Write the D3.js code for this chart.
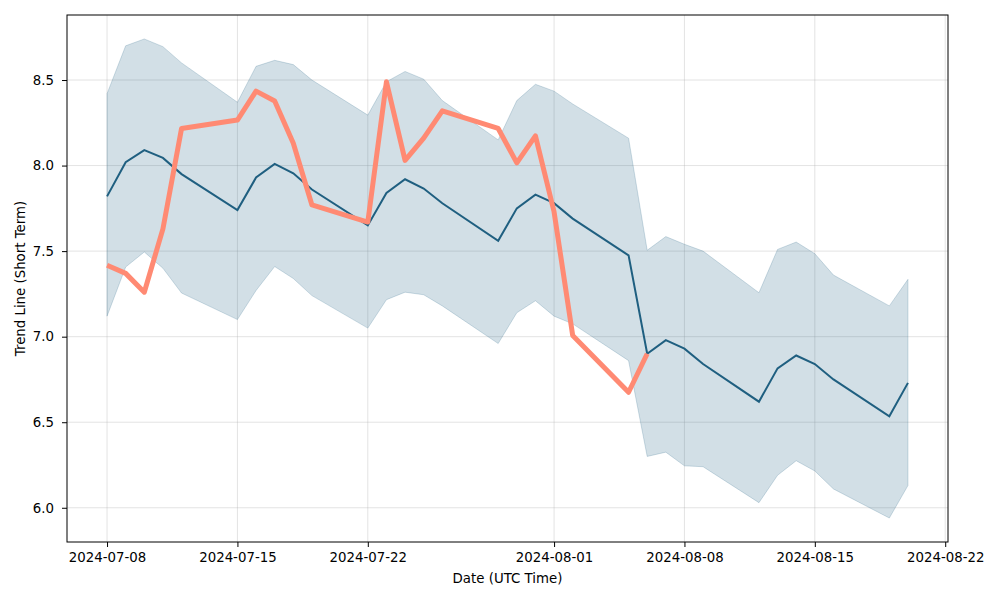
<!DOCTYPE html>
<html>
<head>
<meta charset="utf-8">
<script src="https://cdn.jsdelivr.net/npm/d3@7"></script>
<style>
  html, body { margin: 0; padding: 0; background: #fff; }
  svg { display: block; font-family: "DejaVu Sans", sans-serif; }
</style>
</head>
<body>
<svg id="chart" width="1000" height="600"></svg>
<script>
const dates = ["2024-07-08","2024-07-09","2024-07-10","2024-07-11","2024-07-12",
  "2024-07-15","2024-07-16","2024-07-17","2024-07-18","2024-07-19",
  "2024-07-22","2024-07-23","2024-07-24","2024-07-25","2024-07-26",
  "2024-07-29","2024-07-30","2024-07-31","2024-08-01","2024-08-02",
  "2024-08-05","2024-08-06","2024-08-07","2024-08-08","2024-08-09",
  "2024-08-12","2024-08-13","2024-08-14","2024-08-15","2024-08-16",
  "2024-08-19","2024-08-20"];
const trend = [7.82,8.02,8.09,8.045,7.95,
  7.74,7.93,8.01,7.955,7.86,
  7.65,7.84,7.92,7.866,7.78,
  7.56,7.75,7.83,7.78,7.69,
  7.475,6.90,6.98,6.93,6.84,
  6.62,6.815,6.89,6.84,6.75,
  6.535,6.73];
const upper = [8.42,8.70,8.74,8.695,8.60,
  8.37,8.58,8.615,8.59,8.50,
  8.295,8.49,8.55,8.505,8.38,
  8.15,8.38,8.475,8.435,8.36,
  8.16,7.505,7.585,7.54,7.50,
  7.257,7.51,7.553,7.485,7.36,
  7.18,7.335];
const lower = [7.12,7.407,7.495,7.40,7.255,
  7.10,7.27,7.41,7.34,7.24,
  7.05,7.216,7.26,7.245,7.18,
  6.96,7.14,7.21,7.12,7.075,
  6.86,6.30,6.325,6.245,6.24,
  6.03,6.19,6.275,6.215,6.11,
  5.94,6.13];
const priceDates = dates.slice(0, 22);
const price = [7.417,7.37,7.26,7.63,8.217,
  8.266,8.435,8.377,8.13,7.77,
  7.67,8.49,8.03,8.16,8.32,
  8.217,8.016,8.174,7.73,7.007,
  6.675,6.90];
const xTickLabels = ["2024-07-08","2024-07-15","2024-07-22","2024-08-01","2024-08-08","2024-08-15","2024-08-22"];
const yTicks = [6.0,6.5,7.0,7.5,8.0,8.5];

const parse = d3.utcParse("%Y-%m-%d");
const svg = d3.select("#chart");
const m = {left: 67, right: 948, top: 15, bottom: 542};

const t0 = parse(dates[0]), t1 = parse(dates[dates.length-1]);
const span = t1 - t0;
const x = d3.scaleUtc()
  .domain([new Date(+t0 - span*0.05), new Date(+t1 + span*0.05)])
  .range([m.left, m.right]);
const allVals = upper.concat(lower, trend, price);
const ymin = d3.min(allVals), ymax = d3.max(allVals);
const yr = ymax - ymin;
const y = d3.scaleLinear()
  .domain([ymin - yr*0.05, ymax + yr*0.05])
  .range([m.bottom, m.top]);

const xTicks = xTickLabels.map(parse);

// grid
const g = svg.append("g");
g.selectAll("line.vx").data(xTicks).join("line")
  .attr("x1", d => x(d)).attr("x2", d => x(d))
  .attr("y1", m.top).attr("y2", m.bottom)
  .attr("stroke", "#b0b0b0").attr("stroke-opacity", 0.35).attr("stroke-width", 1);
g.selectAll("line.hy").data(yTicks).join("line")
  .attr("y1", d => y(d)).attr("y2", d => y(d))
  .attr("x1", m.left).attr("x2", m.right)
  .attr("stroke", "#b0b0b0").attr("stroke-opacity", 0.35).attr("stroke-width", 1);

const band = dates.map((d, i) => ({t: parse(d), lo: lower[i], hi: upper[i], tr: trend[i]}));
const area = d3.area().x(d => x(d.t)).y0(d => y(d.lo)).y1(d => y(d.hi));
svg.append("path").datum(band).attr("d", area)
  .attr("fill", "#1f5f80").attr("fill-opacity", 0.2)
  .attr("stroke", "#1f5f80").attr("stroke-opacity", 0.2).attr("stroke-width", 1);

const line = d3.line().x(d => x(d.t)).y(d => y(d.v));
svg.append("path").datum(band.map(d => ({t: d.t, v: d.tr}))).attr("d", line)
  .attr("fill", "none").attr("stroke", "#1f5f80").attr("stroke-width", 2);

svg.append("path").datum(priceDates.map((d, i) => ({t: parse(d), v: price[i]}))).attr("d", line)
  .attr("fill", "none").attr("stroke", "#ff8a73").attr("stroke-width", 5)
  .attr("stroke-linejoin", "round");

// axes
const xAxis = d3.axisBottom(x).tickValues(xTicks).tickFormat(d3.utcFormat("%Y-%m-%d")).tickSizeOuter(0).tickSize(5).tickPadding(5.5);
const yAxis = d3.axisLeft(y).tickValues(yTicks).tickFormat(d3.format(".1f")).tickSizeOuter(0).tickSize(5).tickPadding(8);
const gx = svg.append("g").attr("transform", `translate(0,${m.bottom})`).call(xAxis);
const gy = svg.append("g").attr("transform", `translate(${m.left},0)`).call(yAxis);
[gx, gy].forEach(a => {
  a.select(".domain").remove();
  a.selectAll("text").attr("font-size", "13.33px").attr("fill", "#000").attr("font-family", "DejaVu Sans");
  a.selectAll("line").attr("stroke", "#000");
});
gy.selectAll("text").attr("dy", "0.32em");

svg.append("rect").attr("x", m.left).attr("y", m.top)
  .attr("width", m.right - m.left).attr("height", m.bottom - m.top)
  .attr("fill", "none").attr("stroke", "#000").attr("stroke-width", 1);

svg.append("text").attr("x", (m.left + m.right)/2).attr("y", 583)
  .attr("text-anchor", "middle").attr("font-size", "13.33px").text("Date (UTC Time)");
svg.append("text").attr("transform", `translate(25,${(m.top + m.bottom)/2}) rotate(-90)`)
  .attr("text-anchor", "middle").attr("font-size", "13.33px").text("Trend Line (Short Term)");
</script>
</body>
</html>
